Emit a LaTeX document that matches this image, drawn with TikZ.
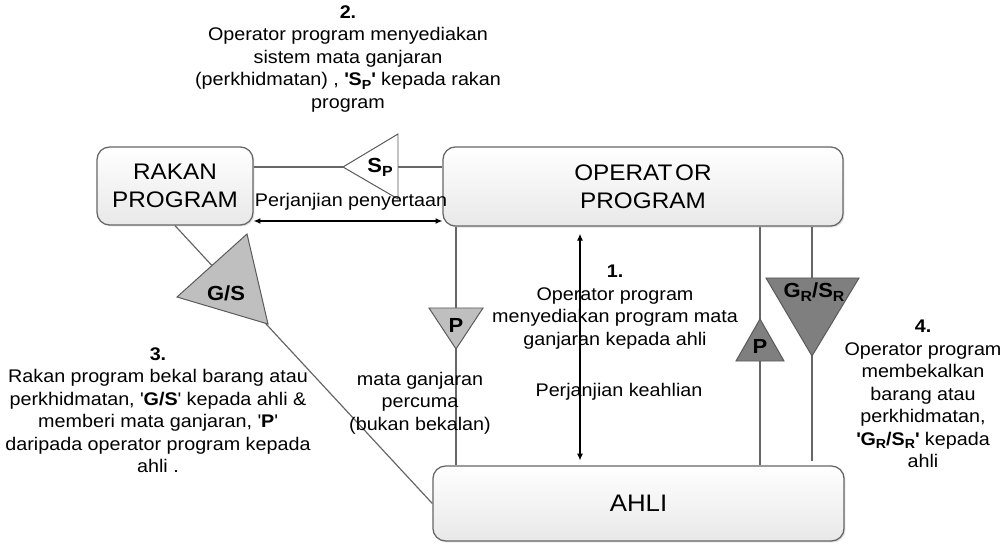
\documentclass[tikz,border=0pt]{standalone}
\usepackage{fontspec}
\setmainfont{Liberation Sans}[FakeStretch=1.08]
\usetikzlibrary{arrows.meta,shadows}

\definecolor{linegrey}{HTML}{666666}
\definecolor{trilight}{HTML}{BFBFBF}
\definecolor{tridark}{HTML}{7F7F7F}

\newcommand{\tsub}[1]{\raisebox{-0.35ex}{\scalebox{0.72}{#1}}}
\newcommand{\squote}{\textquotesingle}

\tikzset{
  party/.style={draw=linegrey, line width=0.9pt, rounded corners=9pt,
    top color=white, bottom color=black!9,
    drop shadow={shadow xshift=1pt, shadow yshift=-1pt, fill=black!25},
    align=center, inner sep=0pt},
  conn/.style={draw=linegrey, line width=0.85pt},
  agree/.style={draw=black, line width=0.8pt, >={Latex[length=1.7mm,width=1.5mm]}, <->},
  tri/.style={draw=black!65, line width=0.7pt},
  note/.style={align=center, inner sep=0pt, font=\fontsize{13}{16}\selectfont},
  trilabel/.style={inner sep=0pt, font=\fontsize{14.5}{16}\selectfont\bfseries}
}

\begin{document}
\begin{tikzpicture}[x=0.025cm, y=-0.025cm]
\useasboundingbox (0,0) rectangle (1006,544);

% the three parties
\node[party, minimum width=3.9cm, minimum height=1.95cm, font=\fontsize{16}{20}\selectfont]
  (rakan) at (175,186) {RAKAN\\PROGRAM};
\node[party, minimum width=10cm, minimum height=1.98cm, font=\fontsize{16}{20}\selectfont]
  (operator) at (643,186.5) {OPERAT\kern2pt OR\\PROGRAM};
\node[party, minimum width=10.275cm, minimum height=1.875cm, font=\fontsize{17}{20}\selectfont]
  (ahli) at (638.5,503.5) {AHLI};

\coordinate (sptip) at (343,167);
\coordinate (spback) at (398,167);
\coordinate (pen) at (0,221);
\coordinate (kea) at (580,0);
\coordinate (pfree) at (456,0);
\coordinate (pback) at (760,0);
\coordinate (gsr) at (812,0);

% flows between the parties
\draw[conn] (rakan.east |- sptip) -- (sptip);
\draw[conn] (spback) -- (operator.west |- spback);
\draw[agree] (rakan.east |- pen) -- (operator.west |- pen);
\draw[conn] (rakan.south) -- (ahli.west);
\draw[conn] (operator.south -| pfree) -- (ahli.north -| pfree);
\draw[conn] (operator.south -| pback) -- (ahli.north -| pback);
\draw[conn, shorten >=3pt] (operator.south -| gsr) -- (ahli.north -| gsr);
\draw[agree, shorten <=5pt, shorten >=3.5pt] (operator.south -| kea) -- (ahli.north -| kea);

% flow markers
\filldraw[tri, fill=white] (398,134) -- (398,199) -- (sptip) -- cycle;
\filldraw[tri, fill=trilight] (247,234) -- (268,324) -- (177,297) -- cycle;
\filldraw[tri, fill=trilight] (429,308) -- (483,308) -- (456,349) -- cycle;
\filldraw[tri, fill=tridark] (736,361) -- (784,361) -- (760,319) -- cycle;
\filldraw[tri, fill=tridark] (766,278) -- (859,278) -- (812,356) -- cycle;

\node[trilabel] (splabel) at (380,167) {S\tsub{P}};
\node[trilabel] (gslabel) at (226,293) {G/S};
\node[trilabel] (plabel) at (456,325) {P};
\node[trilabel] (pbacklabel) at (760,346) {P};
\node[trilabel] (grsrlabel) at (814,292) {G\tsub{R}/S\tsub{R}};

% notes
\node[note] (penyertaan) at (351,202) {Perjanjian penyertaan};
\node[note] (keahlian) at (619,392) {Perjanjian keahlian};
\node[note] (percuma) at (420,403) {mata ganjaran\\percuma\\(bukan bekalan)};
\node[note] (step1) at (615,307)
  {\textbf{1.}\\Operator program\\menyediakan program mata\\ganjaran kepada ahli};
\node[note] (step2) at (348,59)
  {\textbf{2.}\\Operator program menyediakan\\sistem mata ganjaran\\(perkhidmatan) , \textbf{\squote S\tsub{P}\squote} kepada rakan\\program};
\node[note] (step3) at (158,410)
  {\textbf{3.}\\Rakan program bekal barang atau\\perkhidmatan, \squote\textbf{G/S}\squote{} kepada ahli \&\\memberi mata ganjaran, \squote\textbf{P}\squote\\daripada operator program kepada\\ahli .};
\node[note] (step4) at (923,394)
  {\textbf{4.}\\Operator program\\membekalkan\\barang atau\\perkhidmatan,\\\textbf{\squote G\tsub{R}/S\tsub{R}\squote} kepada\\ahli};

\end{tikzpicture}
\end{document}
